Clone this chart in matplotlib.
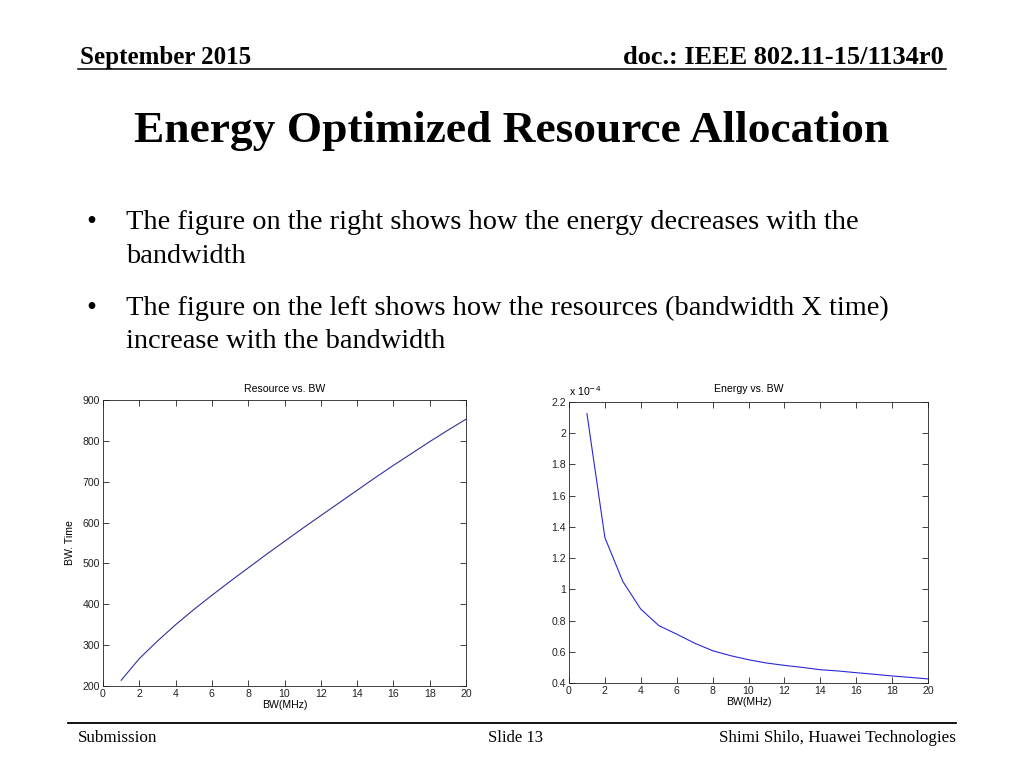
import numpy as np
import matplotlib
matplotlib.use("Agg")
import matplotlib.pyplot as plt
from matplotlib.ticker import FuncFormatter, MultipleLocator

# ---------------- data ----------------
bw_left = [1, 2, 3, 4, 5, 6, 7, 8, 9, 10, 11, 12, 13, 14, 15, 16, 17, 18, 19, 20]
resource = [214, 267, 310, 350, 387, 422, 456, 489, 522, 554,
            586, 617, 648, 679, 710, 740, 769, 798, 826, 853]

bw_right = [1, 2, 3, 4, 5, 6, 7, 8, 9, 10, 11, 12, 13, 14, 15, 16, 17, 18, 19, 20]
energy_e4 = [2.125, 1.331, 1.05, 0.873, 0.768, 0.713, 0.655, 0.607, 0.575, 0.549,
             0.528, 0.513, 0.500, 0.485, 0.477, 0.466, 0.456, 0.445, 0.436, 0.426]
energy = [v * 1e-4 for v in energy_e4]

header_left = "September 2015"
header_right = "doc.: IEEE 802.11-15/1134r0"
slide_title = "Energy Optimized Resource Allocation"
bullet_lines = [
    ("\u2022", "The figure on the right shows how the energy decreases with the"),
    ("", "bandwidth"),
    ("\u2022", "The figure on the left shows how the resources (bandwidth X time)"),
    ("", "increase with the bandwidth"),
]
footer_left = "Submission"
footer_mid = "Slide 13"
footer_right = "Shimi Shilo, Huawei Technologies"

# ---------------- figure ----------------
W, H = 1024, 768
fig = plt.figure(figsize=(W / 100, H / 100), dpi=100)
fig.patch.set_facecolor("white")
renderer = fig.canvas.get_renderer()

SERIF = "Liberation Serif"
SANS = "Liberation Sans"


def fx(x):
    return x / W


def fy(y):
    return 1 - y / H


def fit_text(x, y, s, target_w, ha="left", va="baseline", **kw):
    t = fig.text(fx(x), fy(y), s, fontsize=10, ha=ha, va=va, **kw)
    w = t.get_window_extent(renderer).width
    t.set_fontsize(10 * target_w / w)
    return t


# header
fit_text(80, 64, header_left, 172, family=SERIF, weight="bold")
fit_text(944, 64, header_right, 320, ha="right", family=SERIF, weight="bold")
fig.add_artist(plt.Line2D([fx(78), fx(946)], [fy(68.5), fy(68.5)], color="black", lw=1.1))

# title
fit_text(512, 142, slide_title, 757, ha="center", family=SERIF, weight="bold")

# bullets
baselines = [229, 263, 315, 348]
widths = [732, None, 762, None]
size_ref = None
for (b, s), yb, w in zip(bullet_lines, baselines, widths):
    if w is not None:
        t = fit_text(126, yb, s, w, family=SERIF)
        size_ref = t.get_fontsize()
    else:
        fig.text(fx(126), fy(yb), s, fontsize=size_ref, family=SERIF, va="baseline")
    if b:
        fig.text(fx(86), fy(yb), b, fontsize=size_ref, family=SERIF, va="baseline")

# footer
fig.add_artist(plt.Line2D([fx(68), fx(956)], [fy(723), fy(723)], color="black", lw=1.3))
fit_text(78, 742, footer_left, 79, family=SERIF)
fit_text(488, 742, footer_mid, 55, family=SERIF)
fit_text(956, 742, footer_right, 236, ha="right", family=SERIF)


# ---------------- plots ----------------
TICK_FS = 7.6


def matlab_style(ax):
    for sp in ax.spines.values():
        sp.set_linewidth(0.6)
        sp.set_color("#222222")
    ax.tick_params(direction="in", top=True, right=True, length=4, width=0.6,
                   labelsize=TICK_FS, pad=2, colors="#222222")
    for lab in ax.get_xticklabels() + ax.get_yticklabels():
        lab.set_family(SANS)


axL = fig.add_axes([fx(103), fy(686), (466 - 103) / W, (686 - 400) / H])
axL.plot(bw_left, resource, color="#30309a", lw=0.8)
axL.set_xlim(0, 20)
axL.set_ylim(200, 900)
axL.xaxis.set_major_locator(MultipleLocator(2))
axL.yaxis.set_major_locator(MultipleLocator(100))
axL.set_title("Resource vs. BW", fontsize=TICK_FS, family=SANS, pad=6)
axL.set_xlabel("BW(MHz)", fontsize=TICK_FS, family=SANS, labelpad=1)
axL.set_ylabel("BW. Time", fontsize=TICK_FS, family=SANS, labelpad=6)
matlab_style(axL)

axR = fig.add_axes([fx(569), fy(683), (928 - 569) / W, (683 - 402) / H])
axR.plot(bw_right, energy, color="#2828d8", lw=0.8)
axR.set_xlim(0, 20)
axR.set_ylim(0.4e-4, 2.2e-4)
axR.xaxis.set_major_locator(MultipleLocator(2))
axR.yaxis.set_major_locator(MultipleLocator(0.2e-4))
axR.yaxis.set_major_formatter(FuncFormatter(lambda v, p: f"{v / 1e-4:.1f}".rstrip("0").rstrip(".")))
axR.set_title("Energy vs. BW", fontsize=TICK_FS, family=SANS, pad=7)
axR.set_xlabel("BW(MHz)", fontsize=TICK_FS, family=SANS, labelpad=1)
matlab_style(axR)
axR.text(0.0, 1.015, "x 10$^{-4}$", transform=axR.transAxes, fontsize=TICK_FS,
         family=SANS, ha="left", va="bottom")

fig.savefig("out.png", dpi=100)
